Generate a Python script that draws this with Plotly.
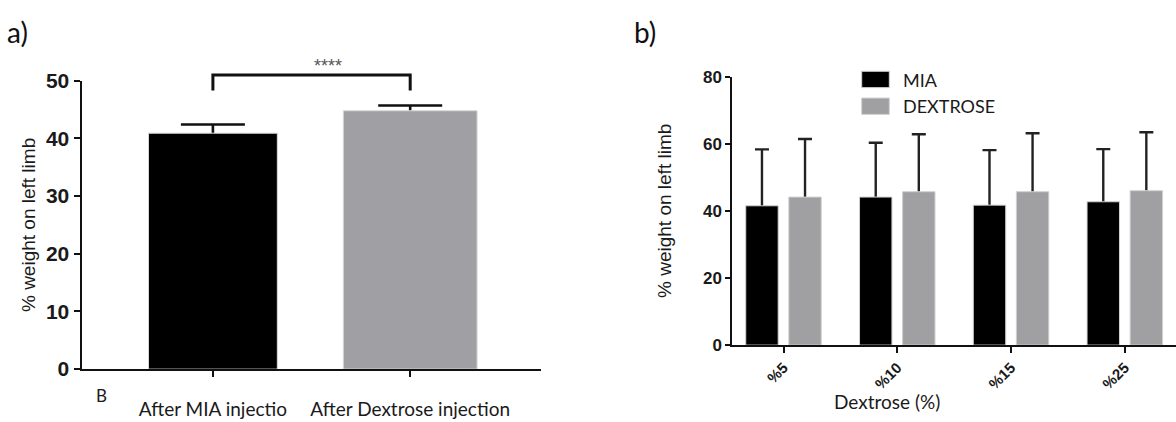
import plotly.graph_objects as go

# ---- panel a: weight bearing after each injection ----
a_groups = ["After MIA injectio", "After Dextrose injection"]
a_means = [40.9, 44.8]
a_err = [1.5, 0.9]
a_colors = ["#000000", "#a09fa4"]
a_bar_widths = [0.653, 0.678]
a_sig = "****"

# ---- panel b: weight bearing by dextrose concentration ----
b_doses = ["%5", "%10", "%15", "%25"]
b_mia = [41.5, 44.1, 41.7, 42.7]
b_mia_err = [16.8, 16.2, 16.4, 15.7]
b_dex = [44.1, 45.7, 45.7, 46.0]
b_dex_err = [17.3, 17.1, 17.4, 17.4]
b_series = ["MIA", "DEXTROSE"]
b_colors = ["#000000", "#a0a0a2"]

W, H = 1176, 422
NUM_FONT = "Liberation Sans, Arial, sans-serif"
TXT_FONT = "Lato, Open Sans, sans-serif"
INK = "#1a1a1a"

# axis geometry (paper fractions)
ax_a_x = [81.5 / W, 541 / W]
ax_a_y = [(H - 377.7) / H, (H - 72.7) / H]
ax_a_range = [-0.666, 1.663]
ax_b_x = [732.3 / W, 1.0]
ax_b_y = [(H - 352.3) / H, (H - 68.3) / H]
ax_b_range = [-0.45, 3.45]


def to_paper(v, dom, rng):
    return dom[0] + (v - rng[0]) / (rng[1] - rng[0]) * (dom[1] - dom[0])


# SD bars are one-sided: the lower end is tucked just inside the bar so the
# bar drawn on the overlay axes hides it.
TUCK_A, TUCK_B = 0.3, 0.5

fig = go.Figure()

# panel a: error bars on the base axes, filled bars on the overlay axes
fig.add_trace(go.Bar(
    x=a_groups, y=a_means, width=a_bar_widths,
    marker=dict(color="rgba(0,0,0,0)", line=dict(width=0)),
    error_y=dict(type="data", symmetric=False, array=a_err,
                 arrayminus=[TUCK_A] * len(a_err), color="#111111",
                 thickness=2.6, width=32),
    xaxis="x", yaxis="y", showlegend=False, hoverinfo="skip",
))
fig.add_trace(go.Bar(
    x=a_groups, y=a_means, width=a_bar_widths,
    marker=dict(color=a_colors, line=dict(color="#d8d8d8", width=1)),
    xaxis="x3", yaxis="y3", showlegend=False,
))

# panel b
for name, vals, errs in zip(b_series, [b_mia, b_dex], [b_mia_err, b_dex_err]):
    fig.add_trace(go.Bar(
        x=b_doses, y=vals, name=name,
        marker=dict(color="rgba(0,0,0,0)", line=dict(width=0)),
        error_y=dict(type="data", symmetric=False, array=errs,
                     arrayminus=[TUCK_B] * len(errs), color="#222222",
                     thickness=2.4, width=7),
        xaxis="x2", yaxis="y2", showlegend=False, hoverinfo="skip",
    ))
for name, vals, col in zip(b_series, [b_mia, b_dex], b_colors):
    fig.add_trace(go.Bar(
        x=b_doses, y=vals, name=name,
        marker=dict(color=col, line=dict(color="#d0d0d0", width=1)),
        xaxis="x4", yaxis="y4", showlegend=False,
    ))

axis_common = dict(showline=True, linecolor="#111111", linewidth=2,
                   ticks="outside", tickcolor="#111111", tickwidth=2,
                   showgrid=False, zeroline=False, fixedrange=True)
hidden = dict(visible=False, showgrid=False, zeroline=False, fixedrange=True)

fig.update_layout(
    width=W, height=H,
    margin=dict(l=0, r=0, t=0, b=0),
    paper_bgcolor="white", plot_bgcolor="white",
    barmode="group", bargap=0.243, bargroupgap=0.247,
    xaxis=dict(domain=ax_a_x, range=ax_a_range, anchor="y",
               ticklen=6, tickfont=dict(family=TXT_FONT, size=19, color=INK),
               ticklabelstandoff=16, **axis_common),
    yaxis=dict(domain=ax_a_y, range=[0, 50], dtick=10, anchor="x",
               ticklen=6, tickfont=dict(family=NUM_FONT, size=21, color=INK, weight="bold"),
               title=dict(text="% weight on left limb", standoff=5,
                          font=dict(family=NUM_FONT, size=19, color=INK)),
               **axis_common),
    xaxis3=dict(overlaying="x", range=ax_a_range, anchor="y3", **hidden),
    yaxis3=dict(overlaying="y", range=[0, 50], anchor="x3", **hidden),
    xaxis2=dict(domain=ax_b_x, range=ax_b_range, anchor="y2",
                ticklen=6, tickangle=-45, ticklabelstandoff=0,
                tickfont=dict(family=NUM_FONT, size=15, color=INK, weight="bold"),
                **axis_common),
    yaxis2=dict(domain=ax_b_y, range=[0, 80], dtick=20, anchor="x2",
                ticklen=5, tickfont=dict(family=NUM_FONT, size=17, color=INK, weight="bold"),
                title=dict(text="% weight on left limb", standoff=26,
                           font=dict(family=NUM_FONT, size=19, color=INK)),
                **axis_common),
    xaxis4=dict(overlaying="x2", range=ax_b_range, anchor="y4", **hidden),
    yaxis4=dict(overlaying="y2", range=[0, 80], anchor="x4", **hidden),
)

# x-axis title of panel b
fig.add_annotation(x=942 / W, y=(H - 412) / H, xref="paper", yref="paper",
                   text="Dextrose (%)", showarrow=False, yanchor="middle",
                   font=dict(family=TXT_FONT, size=19, color=INK))

# significance bracket between the two bars of panel a
bx0 = to_paper(0, ax_a_x, ax_a_range)
bx1 = to_paper(1, ax_a_x, ax_a_range)
by_top = to_paper(51.0, ax_a_y, [0, 50])
by_leg = to_paper(48.3, ax_a_y, [0, 50])
fig.add_shape(type="path", xref="paper", yref="paper",
              path=f"M {bx0} {by_leg} L {bx0} {by_top} L {bx1} {by_top} L {bx1} {by_leg}",
              line=dict(color="#111111", width=3))
fig.add_annotation(x=(bx0 + bx1) / 2, y=to_paper(52.5, ax_a_y, [0, 50]),
                   xref="paper", yref="paper", text=a_sig, showarrow=False,
                   yanchor="middle",
                   font=dict(family=NUM_FONT, size=18, color="#555555"))

# legend of panel b drawn as swatches + labels
sw_x0, sw_x1 = 861.7 / W, 889.3 / W
for i, (name, col) in enumerate(zip(b_series, b_colors)):
    top = 62.7 + i * 28.3
    fig.add_shape(type="rect", xref="paper", yref="paper",
                  x0=sw_x0, x1=sw_x1, y0=(H - top - 17.3) / H, y1=(H - top) / H,
                  fillcolor=col, line=dict(color="#d0d0d0", width=1))
    fig.add_annotation(x=901 / W, y=(H - top - 8.7) / H, xref="paper", yref="paper",
                       text=name, showarrow=False, xanchor="left", yanchor="middle",
                       font=dict(family=TXT_FONT, size=18, color=INK))

# panel letters and stray label
for txt, px in [("a)", 5), ("b)", 632)]:
    fig.add_annotation(x=px / W, y=(H - 21.5) / H, xref="paper", yref="paper",
                       text=txt, showarrow=False, xanchor="left", yanchor="middle",
                       font=dict(family=TXT_FONT, size=28, color="#111111"))
fig.add_annotation(x=94 / W, y=(H - 406) / H, xref="paper", yref="paper",
                   text="B", showarrow=False, yanchor="middle",
                   font=dict(family=TXT_FONT, size=17, color=INK))

fig.write_html("out.html")
